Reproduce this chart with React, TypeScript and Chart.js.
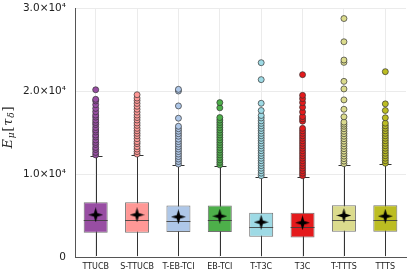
import React, { useEffect, useRef } from 'react';
import { Chart, registerables } from 'chart.js';
Chart.register(...registerables);

const categories = ['TTUCB', 'S-TTUCB', 'T-EB-TCI', 'EB-TCI', 'T-T3C', 'T3C', 'T-TTTS', 'TTTS'];
const colors = ['#984ea3', '#ff9896', '#aec7e8', '#4daf4a', '#9edae5', '#e41a1c', '#dbdb8d', '#bcbd22'];

const whiskerLow = [120, 120, 120, 120, 100, 100, 120, 120];
const q1 = [2920, 2920, 3000, 3000, 2440, 2360, 3040, 3040];
const median = [4480, 4480, 4360, 4400, 3640, 3640, 4440, 4440];
const q3 = [6600, 6600, 6200, 6200, 5320, 5320, 6240, 6240];
const whiskerHigh = [12120, 12240, 11040, 10960, 9640, 9640, 11080, 11160];
const mean = [5080, 5080, 4840, 4920, 4200, 4120, 5000, 4920];

const outTTUCB = [12300, 12600, 12950, 13200, 13550, 13800, 14100, 14450, 14700, 15050, 15300, 15600, 15950, 16200, 16500, 16850, 17100, 17500, 17900, 18350, 18800, 19000, 20150];
const outSTTUCB = [12400, 12700, 13000, 13300, 13650, 13900, 14250, 14600, 14900, 15200, 15500, 15850, 16150, 16500, 16800, 17100, 17450, 17800, 18150, 18500, 18850, 19150, 19550];
const outTEBTCI = [11200, 11500, 11800, 12100, 12400, 12700, 13000, 13300, 13600, 13900, 14200, 14550, 14850, 15150, 15450, 15750, 16720, 18200, 20000, 20200];
const outEBTCI = [11100, 11400, 11700, 12000, 12300, 12600, 12900, 13200, 13500, 13800, 14100, 14400, 14700, 15000, 15300, 15600, 15900, 16200, 16500, 16800, 17970, 18600];
const outTT3C = [9800, 10100, 10400, 10700, 11000, 11300, 11600, 11900, 12200, 12500, 12800, 13100, 13400, 13700, 14000, 14300, 14600, 14900, 15200, 15500, 15800, 16100, 16400, 16750, 17050, 17650, 18520, 21370, 23410];
const outT3C = [9800, 10100, 10400, 10700, 11000, 11300, 11600, 11900, 12200, 12500, 12800, 13100, 13400, 13700, 14000, 14300, 14600, 14900, 15200, 15500, 16360, 16640, 16920, 17480, 18040, 18600, 19080, 19480, 21970];
const outTTTTS = [11250, 11550, 11850, 12150, 12450, 12750, 13050, 13350, 13650, 13950, 14250, 14550, 14850, 15150, 15450, 15750, 16000, 16250, 16890, 17800, 18930, 20250, 21160, 23450, 23730, 25930, 28730];
const outTTTS = [11300, 11600, 11900, 12200, 12500, 12800, 13100, 13400, 13700, 14000, 14300, 14600, 14900, 15200, 15500, 15800, 16120, 16770, 17650, 18450, 22330];
const outliers = [outTTUCB, outSTTUCB, outTEBTCI, outEBTCI, outTT3C, outT3C, outTTTTS, outTTTS];

const yTicks = [0, 10000, 20000, 30000];
const yTickLabels = ['0', '1.0×10⁴', '2.0×10⁴', '3.0×10⁴'];

function makeStar(size: number) {
  const c = document.createElement('canvas');
  c.width = size;
  c.height = size;
  const g = c.getContext('2d')!;
  const r = size / 2;
  const ri = r * 0.32;
  g.beginPath();
  for (let i = 0; i < 8; i++) {
    const a = -Math.PI / 2 + (i * Math.PI) / 4;
    const rr = i % 2 === 0 ? r : ri;
    g.lineTo(r + rr * Math.cos(a), r + rr * Math.sin(a));
  }
  g.closePath();
  g.fillStyle = '#000';
  g.fill();
  return c;
}

const boxPlugin = {
  id: 'boxExtras',
  beforeDatasetsDraw(chart: any) {
    const ctx = chart.ctx;
    const x = chart.scales.x;
    const y = chart.scales.y;
    ctx.save();
    ctx.strokeStyle = '#333';
    ctx.lineWidth = 1;
    categories.forEach((_, i) => {
      const px = Math.round(x.getPixelForValue(i)) + 0.5;
      ctx.beginPath();
      ctx.moveTo(px, y.getPixelForValue(whiskerLow[i]));
      ctx.lineTo(px, y.getPixelForValue(whiskerHigh[i]));
      ctx.stroke();
      const wy = Math.round(y.getPixelForValue(whiskerHigh[i])) + 0.5;
      ctx.beginPath();
      ctx.moveTo(px - 6, wy);
      ctx.lineTo(px + 6, wy);
      ctx.stroke();
    });
    ctx.restore();
  },
  afterDatasetDraw(chart: any, args: any) {
    if (args.index !== 0) return;
    const ctx = chart.ctx;
    const y = chart.scales.y;
    const meta = chart.getDatasetMeta(0);
    ctx.save();
    ctx.strokeStyle = 'rgba(60,60,60,0.85)';
    ctx.lineWidth = 1;
    meta.data.forEach((bar: any, i: number) => {
      const my = Math.round(y.getPixelForValue(median[i])) + 0.5;
      ctx.beginPath();
      ctx.moveTo(bar.x - bar.width / 2, my);
      ctx.lineTo(bar.x + bar.width / 2, my);
      ctx.stroke();
    });
    ctx.restore();
  },
  afterDraw(chart: any) {
    const ctx = chart.ctx;
    const pieces = [
      { t: 'E', s: 13, dy: 0, it: true },
      { t: 'μ', s: 9, dy: 2.5, it: true },
      { t: '[', s: 13, dy: 0, it: false },
      { t: 'τ', s: 13, dy: 0, it: true },
      { t: 'δ', s: 9, dy: 2.5, it: true },
      { t: ']', s: 13, dy: 0, it: false },
    ];
    const font = (p: any) => `${p.it ? 'italic ' : ''}${p.s}px 'DejaVu Serif'`;
    ctx.save();
    let total = 0;
    const widths = pieces.map((p) => {
      ctx.font = font(p);
      const w = ctx.measureText(p.t).width + 0.8;
      total += w;
      return w;
    });
    ctx.translate(8, 127);
    ctx.rotate(-Math.PI / 2);
    ctx.fillStyle = '#222';
    ctx.textBaseline = 'alphabetic';
    ctx.textAlign = 'left';
    let cx = -total / 2;
    pieces.forEach((p, i) => {
      ctx.font = font(p);
      ctx.fillText(p.t, cx, 3.5 + p.dy);
      cx += widths[i];
    });
    ctx.restore();
  },
};

export default function App() {
  const ref = useRef<HTMLCanvasElement>(null);
  useEffect(() => {
    const star = makeStar(15);
    const datasets: any[] = [
      {
        type: 'bar',
        data: categories.map((_, i) => [q1[i], q3[i]]),
        backgroundColor: colors,
        borderColor: 'rgba(90,90,90,0.85)',
        borderWidth: 1,
        borderSkipped: false,
        barPercentage: 0.58,
        categoryPercentage: 1,
        order: 3,
      },
      {
        type: 'line',
        data: mean,
        showLine: false,
        pointStyle: star,
        pointRadius: 7,
        order: 0,
      },
    ];
    outliers.forEach((vals, i) => {
      datasets.push({
        type: 'line',
        data: vals.map((v) => ({ x: categories[i], y: v })),
        showLine: false,
        pointRadius: 3,
        pointBackgroundColor: colors[i],
        pointBorderColor: '#333',
        pointBorderWidth: 0.7,
        order: 1,
      });
    });
    const chart = new Chart(ref.current!, {
      type: 'bar',
      data: { labels: categories, datasets },
      options: {
        animation: false,
        responsive: false,
        devicePixelRatio: 1,
        layout: { padding: { top: 0, right: 9, left: 0, bottom: 0 } },
        plugins: { legend: { display: false }, tooltip: { enabled: false } },
        scales: {
          x: {
            offset: true,
            grid: { offset: false, color: '#ebebeb', lineWidth: 1, drawTicks: false },
            border: { display: true, color: '#555', width: 1 },
            ticks: {
              autoSkip: false,
              maxRotation: 0,
              padding: 5,
              color: '#222',
              font: { family: 'DejaVu Sans', size: 8 },
            },
            afterFit: (s: any) => {
              s.height = 20;
              s.paddingLeft = 0;
              s.paddingRight = 0;
            },
          },
          y: {
            min: 0,
            max: 30000,
            afterBuildTicks: (s: any) => {
              s.ticks = yTicks.map((v) => ({ value: v }));
            },
            grid: { color: '#ebebeb', lineWidth: 1, drawTicks: false },
            border: { display: true, color: '#555', width: 1 },
            ticks: {
              padding: 9,
              color: '#222',
              font: { family: 'DejaVu Sans', size: 10.5 },
              callback: (v: any) => yTickLabels[yTicks.indexOf(Number(v))],
            },
            afterFit: (s: any) => {
              s.width = 75;
              s.paddingTop = 7;
              s.paddingBottom = 0;
            },
          },
        },
      } as any,
      plugins: [boxPlugin],
    });
    return () => chart.destroy();
  }, []);
  return (
    <div style={{ position: 'fixed', left: 0, top: 0, width: 415, height: 277, background: '#fff' }}>
      <canvas ref={ref} width={415} height={277} style={{ display: 'block' }} />
    </div>
  );
}
